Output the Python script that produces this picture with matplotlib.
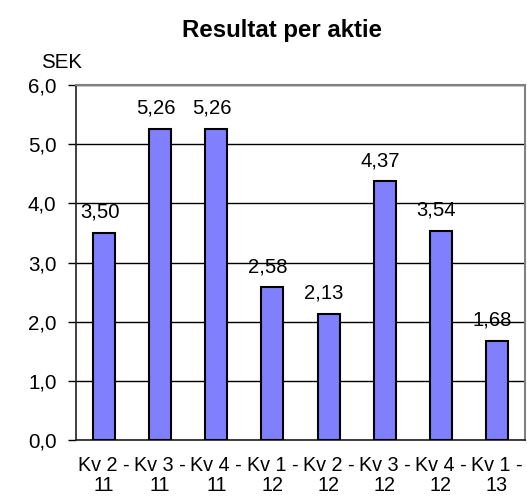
import numpy as np
import matplotlib.pyplot as plt

plt.rcParams['font.family'] = ['Liberation Sans', 'DejaVu Sans']

labels = ["Kv 2 -\n11", "Kv 3 -\n11", "Kv 4 -\n11", "Kv 1 -\n12",
          "Kv 2 -\n12", "Kv 3 -\n12", "Kv 4 -\n12", "Kv 1 -\n13"]
values = [3.50, 5.26, 5.26, 2.58, 2.13, 4.37, 3.54, 1.68]

fig = plt.figure(figsize=(5.27, 4.98), dpi=100)
ax = fig.add_axes([76/527, 1 - 440/498, 449/527, 355/498])

x = np.arange(len(values))
ax.bar(x, values, width=0.39, color='#8080FF', edgecolor='black', linewidth=1.5, zorder=3)

for xi, v in zip(x, values):
    ax.annotate(f"{v:.2f}".replace('.', ','), (xi, v), xytext=(-3.2, 8),
                textcoords='offset points', ha='center', va='bottom', fontsize=14.6)

ax.set_xlim(-0.5, len(values) - 0.5)
ax.set_ylim(0, 6)
ax.set_yticks(np.arange(0, 6.1, 1))
ax.set_yticklabels([f"{t:.1f}".replace('.', ',') for t in np.arange(0, 6.1, 1)], fontsize=14.8)
ax.yaxis.grid(True, color='black', linewidth=1, zorder=0)
ax.set_xticks(x)
ax.set_xticklabels(labels, fontsize=14.2, linespacing=1.08)
ax.tick_params(axis='x', length=0, pad=11.5)
ax.tick_params(axis='y', length=6, width=1, color='black', pad=8)

for side in ['top', 'right']:
    ax.spines[side].set_color('#808080')
    ax.spines[side].set_linewidth(1.5)
for side in ['left', 'bottom']:
    ax.spines[side].set_color('#202020')
    ax.spines[side].set_linewidth(1.2)

fig.text(282/527, 1 - 30/498, "Resultat per aktie", ha='center', va='center',
         fontsize=17.3, fontweight='bold')
fig.text(62/527, 1 - 62/498, "SEK", ha='center', va='center', fontsize=14.8)

fig.savefig('out.png', dpi=100)
